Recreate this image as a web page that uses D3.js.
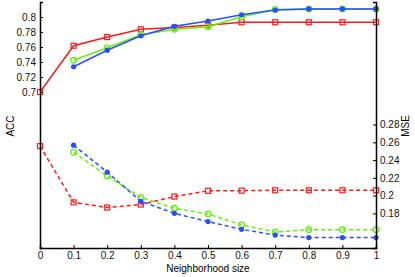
<!DOCTYPE html>
<html>
<head>
<meta charset="utf-8">
<script src="https://cdn.jsdelivr.net/npm/d3@7"></script>
<style>
body { margin: 0; background: #fff; }
text { font-family: "Liberation Sans", Arial, sans-serif; }
</style>
</head>
<body>
<div id="container"></div>
<script>
var WIDTH = 415,
	HEIGHT = 277,
	LEFT = 40,
	RIGHT = 376,
	TOP = 2,
	BOTTOM = 248;

// neighbourhood sizes
var sizes = [0, 0.1, 0.2, 0.3, 0.4, 0.5, 0.6, 0.7, 0.8, 0.9, 1];

// ACC (solid lines)
var accRed   = [0.700, 0.7617, 0.7733, 0.7836, 0.786, 0.789, 0.793, 0.793, 0.793, 0.793, 0.793];
var accGreen = [null, 0.7423, 0.759, 0.7764, 0.7836, 0.787, 0.8004, 0.8100, 0.8107, 0.8107, 0.8107];
var accBlue  = [null, 0.7337, 0.7556, 0.775, 0.7876, 0.7947, 0.803, 0.8093, 0.8107, 0.8107, 0.8107];

// MSE (dashed lines)
var mseRed   = [0.2557, 0.1924, 0.1865, 0.190, 0.1989, 0.2054, 0.2056, 0.206, 0.206, 0.206, 0.206];
var mseGreen = [null, 0.2488, 0.222, 0.198, 0.1857, 0.1793, 0.167, 0.159, 0.1615, 0.1615, 0.1615];
var mseBlue  = [null, 0.2568, 0.2264, 0.1936, 0.180, 0.1707, 0.162, 0.1556, 0.1527, 0.1527, 0.1527];

var xTicks = [0, 0.1, 0.2, 0.3, 0.4, 0.5, 0.6, 0.7, 0.8, 0.9, 1];
var accTicks = [0.7, 0.72, 0.74, 0.76, 0.78, 0.8];
var mseTicks = [0.18, 0.2, 0.22, 0.24, 0.26, 0.28];

var RED = '#ff1a1a', GREEN = '#66ee11', BLUE = '#2a4dff';

var xScale = d3.scaleLinear().domain([0, 1]).range([LEFT, RIGHT]);
var yAcc = d3.scaleLinear().domain([0.492, 0.82]).range([BOTTOM, TOP]);
var yMse = d3.scaleLinear().domain([0.141, 0.418]).range([BOTTOM, TOP]);

var translate = function (x, y) {
	return "translate(" + x + "," + y + ")";
};

function fmt(d) {
	return d3.format('~g')(d);
}

function drawAxes(svg) {
	var xAxis = d3.axisBottom(xScale).tickValues(xTicks).tickSize(-3).tickPadding(4).tickFormat(fmt);
	var gx = svg.append('g').attr('transform', translate(0, BOTTOM)).call(xAxis);
	var yAxisL = d3.axisLeft(yAcc).tickValues(accTicks).tickSize(-3).tickPadding(4).tickFormat(fmt);
	var gl = svg.append('g').attr('transform', translate(LEFT, 0)).call(yAxisL);
	var yAxisR = d3.axisRight(yMse).tickValues(mseTicks).tickSize(-3).tickPadding(4).tickFormat(fmt);
	var gr = svg.append('g').attr('transform', translate(RIGHT, 0)).call(yAxisR);
	[gx, gl, gr].forEach(function (g) {
		g.select('.domain').attr('stroke', '#000').attr('stroke-width', 1.5);
		g.selectAll('.tick line').attr('stroke', '#000');
		g.selectAll('.tick text').attr('font-size', 10).attr('fill', '#111')
			.attr('font-family', '"Liberation Sans", Arial, sans-serif');
	});
	svg.append('text').attr('x', (LEFT + RIGHT) / 2).attr('y', 272)
		.attr('text-anchor', 'middle').attr('font-size', 10).text('Neighborhood size');
	svg.append('text').attr('transform', translate(14, 126) + ' rotate(-90)')
		.attr('text-anchor', 'middle').attr('font-size', 10).text('ACC');
	svg.append('text').attr('transform', translate(409, 126) + ' rotate(-90)')
		.attr('text-anchor', 'middle').attr('font-size', 10).text('MSE');
}

function drawSeries(svg, values, yScale, color, marker, dashed) {
	var pts = sizes.map(function (s, i) { return [s, values[i]]; })
		.filter(function (p) { return p[1] !== null; });
	var line = d3.line()
		.x(function (p) { return xScale(p[0]); })
		.y(function (p) { return yScale(p[1]); });
	svg.append('path')
		.attr('d', line(pts))
		.attr('fill', 'none')
		.attr('stroke', color)
		.attr('stroke-width', 1.5)
		.attr('stroke-dasharray', dashed ? '4,3' : null);
	var g = svg.append('g');
	if (marker === 'square') {
		g.selectAll('rect').data(pts).enter().append('rect')
			.attr('x', function (p) { return xScale(p[0]) - 2.5; })
			.attr('y', function (p) { return yScale(p[1]) - 2.5; })
			.attr('width', 5).attr('height', 5)
			.attr('fill', 'none').attr('stroke', color).attr('stroke-width', 1.2);
	} else if (marker === 'open') {
		g.selectAll('circle').data(pts).enter().append('circle')
			.attr('cx', function (p) { return xScale(p[0]); })
			.attr('cy', function (p) { return yScale(p[1]); })
			.attr('r', 2.8)
			.attr('fill', 'none').attr('stroke', color).attr('stroke-width', 1.3);
	} else {
		g.selectAll('circle').data(pts).enter().append('circle')
			.attr('cx', function (p) { return xScale(p[0]); })
			.attr('cy', function (p) { return yScale(p[1]); })
			.attr('r', 2.6)
			.attr('fill', color);
	}
}

function visualize() {
	var svg = d3.select('#container').append('svg')
		.attr('width', WIDTH).attr('height', HEIGHT);
	drawSeries(svg, accRed, yAcc, RED, 'square', false);
	drawSeries(svg, accGreen, yAcc, GREEN, 'open', false);
	drawSeries(svg, accBlue, yAcc, BLUE, 'filled', false);
	drawSeries(svg, mseRed, yMse, RED, 'square', true);
	drawSeries(svg, mseGreen, yMse, GREEN, 'open', true);
	drawSeries(svg, mseBlue, yMse, BLUE, 'filled', true);
	drawAxes(svg);
}

window.onload = visualize;
</script>
</body>
</html>
